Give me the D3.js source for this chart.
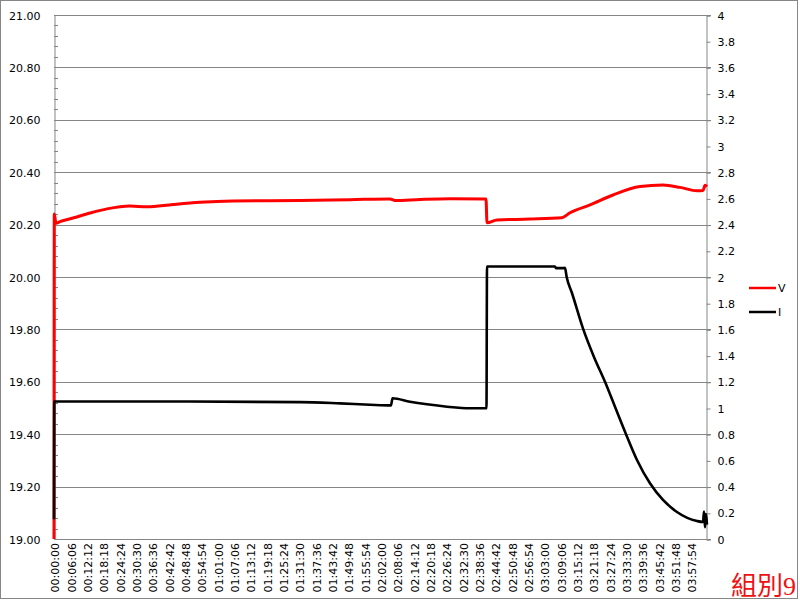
<!DOCTYPE html>
<html>
<head>
<meta charset="utf-8">
<script src="https://cdn.jsdelivr.net/npm/d3@7/dist/d3.min.js"></script>
<style>
  html, body { margin: 0; padding: 0; background: #fff; }
  svg { display: block; }
  text { font-family: "DejaVu Sans", sans-serif; font-size: 11px; }
</style>
</head>
<body>
<svg id="chart" width="800" height="601"></svg>
<script>
// ---- data (seconds from start) ----
const vTime = [0, 6, 45, 134, 426, 807, 1188, 1703, 2084, 2667, 3272, 4011, 5513, 6633, 7530, 7642, 8202, 8874, 9681, 9704, 9928, 10667, 11384, 11564, 12012, 12527, 13132, 13648, 14029, 14410, 14545, 14590, 14634];
const vValues = [19.00, 20.24, 20.205, 20.211, 20.225, 20.244, 20.26, 20.271, 20.268, 20.277, 20.285, 20.29, 20.292, 20.295, 20.298, 20.292, 20.296, 20.299, 20.298, 20.207, 20.218, 20.221, 20.226, 20.245, 20.275, 20.313, 20.345, 20.351, 20.342, 20.329, 20.33, 20.35, 20.345];

const iTime = [0, 6, 2151, 5513, 6409, 7081, 7552, 7586, 7978, 8359, 8807, 9323, 9692, 9704, 11227, 11249, 11429, 11451, 11489, 11608, 11862, 12101, 12348, 12583, 12819, 13065, 13356, 13648, 13961, 14410, 14545, 14567, 14589, 14612, 14634];
const iValues = [0.15, 1.05, 1.05, 1.045, 1.035, 1.025, 1.02, 1.075, 1.048, 1.028, 1.01, 0.998, 0.998, 2.08, 2.08, 2.068, 2.068, 2.07, 2.0, 1.878, 1.6, 1.39, 1.2, 1.0, 0.8, 0.603, 0.425, 0.298, 0.206, 0.137, 0.13, 0.21, 0.09, 0.19, 0.11];

const xTickLabels = ["00:00:00","00:06:06","00:12:12","00:18:18","00:24:24","00:30:30","00:36:36","00:42:42","00:48:48","00:54:54","01:01:00","01:07:06","01:13:12","01:19:18","01:25:24","01:31:30","01:37:36","01:43:42","01:49:48","01:55:54","02:02:00","02:08:06","02:14:12","02:20:18","02:26:24","02:32:30","02:38:36","02:44:42","02:50:48","02:56:54","03:03:00","03:09:06","03:15:12","03:21:18","03:27:24","03:33:30","03:39:36","03:45:42","03:51:48","03:57:54"];
const leftTicks = [19.0, 19.2, 19.4, 19.6, 19.8, 20.0, 20.2, 20.4, 20.6, 20.8, 21.0];
const rightTicks = [0, 0.2, 0.4, 0.6, 0.8, 1, 1.2, 1.4, 1.6, 1.8, 2, 2.2, 2.4, 2.6, 2.8, 3, 3.2, 3.4, 3.6, 3.8, 4];
const seriesNames = ["V", "I"];
const seriesColors = ["#ff0000", "#000000"];
const tagText = "組別9";

// ---- layout ----
const L = 54, R = 707, T = 15, B = 539;
const grid = "#868686";
const svg = d3.select("#chart");

const toSec = s => { const p = s.split(":").map(Number); return p[0]*3600 + p[1]*60 + p[2]; };

const x = d3.scaleLinear().domain([0, 14634]).range([L, R]);
const yL = d3.scaleLinear().domain([19, 21]).range([B, T]);
const yR = d3.scaleLinear().domain([0, 4]).range([B, T]);

// outer border
svg.append("rect").attr("x", 0.5).attr("y", 0.5).attr("width", 797).attr("height", 598)
  .attr("fill", "#fff").attr("stroke", grid);

// gridlines
svg.append("g").selectAll("line").data(leftTicks).join("line")
  .attr("x1", L).attr("x2", R + 4)
  .attr("y1", d => Math.round(yL(d)) + 0.5).attr("y2", d => Math.round(yL(d)) + 0.5)
  .attr("stroke", grid);

// left axis
const leftAxis = d3.axisLeft(yL).tickValues(leftTicks).tickFormat(d3.format(".2f")).tickSize(0).tickPadding(14);
const gL = svg.append("g").attr("transform", `translate(${L + 0.5},0.5)`).call(leftAxis);
gL.select(".domain").attr("stroke", grid);
gL.selectAll("text").style("font-family", "DejaVu Sans").style("font-size", "11px").style("fill", "#000");
// left minor ticks (inside)
const minor = d3.range(0, 51).map(i => 19 + i * 0.04).filter((d, i) => i % 5 !== 0);
svg.append("g").selectAll("line").data(minor).join("line")
  .attr("x1", L).attr("x2", L + 4)
  .attr("y1", d => Math.round(yL(d)) + 0.5).attr("y2", d => Math.round(yL(d)) + 0.5)
  .attr("stroke", grid);

// right axis
const rightAxis = d3.axisRight(yR).tickValues(rightTicks).tickFormat(d => String(+d.toFixed(1))).tickSize(4).tickPadding(7);
const gR = svg.append("g").attr("transform", `translate(${R - 0.5},0.5)`).call(rightAxis);
gR.select(".domain").attr("stroke", grid);
gR.selectAll(".tick line").attr("stroke", grid);
gR.selectAll("text").style("font-family", "DejaVu Sans").style("font-size", "11px").style("fill", "#000");

// bottom axis line
svg.append("line").attr("x1", L).attr("x2", R).attr("y1", B + 0.5).attr("y2", B + 0.5).attr("stroke", grid);

// x labels
const xAxis = d3.axisBottom(x).tickValues(xTickLabels.map(toSec)).tickFormat((d, i) => xTickLabels[i]).tickSize(0);
const gX = svg.append("g").attr("transform", `translate(0,${B})`).call(xAxis);
gX.select(".domain").remove();
gX.selectAll("text")
  .style("font-family", "DejaVu Sans").style("font-size", "11px").style("fill", "#000")
  .attr("transform", "rotate(-90)")
  .attr("text-anchor", "end")
  .attr("x", -4).attr("y", 0).attr("dx", 0).attr("dy", "0.36em");
gX.selectAll(".tick").attr("transform", function() {
  const t = d3.select(this).attr("transform");
  const m = /translate\(([-\d.]+)/.exec(t);
  return `translate(${+m[1] + 1},0)`;
});

// lines
svg.append("clipPath").attr("id", "plotclip").append("rect")
  .attr("x", L - 2).attr("y", T - 2).attr("width", R - L + 4).attr("height", B - T + 2);

const vData = vTime.map((t, i) => [t, vValues[i]]);
const iData = iTime.map((t, i) => [t, iValues[i]]);

svg.append("path").datum(vData)
  .attr("clip-path", "url(#plotclip)")
  .attr("fill", "none").attr("stroke", seriesColors[0]).attr("stroke-width", 3)
  .attr("stroke-linejoin", "round")
  .attr("d", d3.line().curve(d3.curveMonotoneX).x(d => x(d[0])).y(d => yL(d[1])));

svg.append("path").datum(iData)
  .attr("clip-path", "url(#plotclip)")
  .attr("fill", "none").attr("stroke", seriesColors[1]).attr("stroke-width", 2.6)
  .attr("stroke-linejoin", "round")
  .attr("d", d3.line().curve(d3.curveMonotoneX).x(d => x(d[0])).y(d => yR(d[1])));

// legend
const lg = svg.append("g").attr("transform", "translate(749,288)");
seriesNames.forEach((n, i) => {
  const g = lg.append("g").attr("transform", `translate(0,${i * 24})`);
  g.append("line").attr("x1", 0).attr("x2", 27).attr("y1", 0).attr("y2", 0)
    .attr("stroke", seriesColors[i]).attr("stroke-width", 2.5);
  g.append("text").attr("x", 29).attr("y", 0).attr("dy", "0.36em").style("fill", "#000").text(n);
});

// tag text
svg.append("text").attr("x", 731).attr("y", 595)
  .style("font-family", "'Liberation Serif', 'Noto Sans CJK TC', serif")
  .style("font-size", "26px").style("fill", "#ee1111")
  .text(tagText);
</script>
</body>
</html>
